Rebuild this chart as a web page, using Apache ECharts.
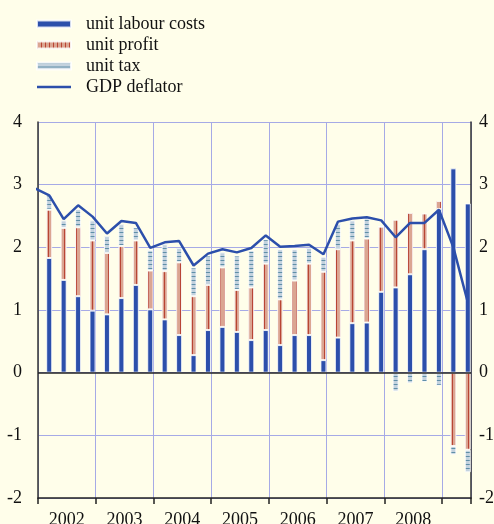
<!DOCTYPE html>
<html>
<head>
<meta charset="utf-8">
<script src="https://cdn.jsdelivr.net/npm/echarts@6/dist/echarts.min.js"></script>
<style>
  html, body { margin: 0; padding: 0; background: #fffeea; }
  #chart { width: 494px; height: 524px; }
</style>
</head>
<body>
<div id="chart"></div>
<script>
// quarters (first one only feeds the line, it is clipped at the left edge)
const quarters = [
  '2001Q4',
  '2002Q1', '2002Q2', '2002Q3', '2002Q4',
  '2003Q1', '2003Q2', '2003Q3', '2003Q4',
  '2004Q1', '2004Q2', '2004Q3', '2004Q4',
  '2005Q1', '2005Q2', '2005Q3', '2005Q4',
  '2006Q1', '2006Q2', '2006Q3', '2006Q4',
  '2007Q1', '2007Q2', '2007Q3', '2007Q4',
  '2008Q1', '2008Q2', '2008Q3', '2008Q4',
  '2009Q1', '2009Q2'
];
const yearLabels = ['2002', '2003', '2004', '2005', '2006', '2007', '2008'];

// 2002Q1 .. 2009Q2
const labourCosts = [1.83, 1.48, 1.22, 0.99, 0.93, 1.19, 1.40, 1.01, 0.85, 0.60,
  0.28, 0.68, 0.73, 0.65, 0.52, 0.68, 0.44, 0.60, 0.60, 0.20,
  0.56, 0.79, 0.80, 1.29, 1.36, 1.57, 1.97, 2.61, 3.26, 2.70];
const unitProfit = [0.77, 0.83, 1.10, 1.12, 0.98, 0.83, 0.71, 0.62, 0.77, 1.16,
  0.94, 0.72, 0.95, 0.67, 0.84, 1.06, 0.73, 0.87, 1.14, 1.41,
  1.41, 1.32, 1.34, 1.04, 1.08, 0.98, 0.57, 0.13, -1.17, -1.23];
const unitTax = [0.23, 0.12, 0.29, 0.32, 0.27, 0.35, 0.21, 0.33, 0.43, 0.23,
  0.46, 0.47, 0.24, 0.55, 0.59, 0.39, 0.80, 0.50, 0.25, 0.24,
  0.40, 0.32, 0.32, 0.00, -0.30, -0.17, -0.15, -0.21, -0.14, -0.36];
// 2001Q4 .. 2009Q2
const gdpDeflator = [2.94, 2.83, 2.45, 2.67, 2.49, 2.22, 2.42, 2.39, 1.99, 2.08,
  2.10, 1.71, 1.90, 1.97, 1.92, 1.99, 2.19, 2.01, 2.02, 2.04,
  1.89, 2.41, 2.46, 2.48, 2.43, 2.16, 2.39, 2.39, 2.60, 2.00, 1.12];

const FONT = 'Liberation Serif';
const BLUE = '#2c4fab';

// quarter -> position on the decimal-year axis (same place as the bar centres)
function toX(q) {
  const parts = q.split('Q');
  return +parts[0] + (parts[1] - 1) / 4 + 0.195;
}

function stripes(w, h, bg, fg, vertical) {
  const c = document.createElement('canvas');
  c.width = w; c.height = h;
  const ctx = c.getContext('2d');
  ctx.fillStyle = bg;
  ctx.fillRect(0, 0, w, h);
  ctx.fillStyle = fg;
  if (vertical) ctx.fillRect(0, 0, 1, h);
  else ctx.fillRect(0, 0, w, 1);
  return { image: c, repeat: 'repeat' };
}

const barQuarters = quarters.slice(1);

const barCommon = {
  type: 'bar',
  stack: 'total',
  xAxisIndex: 2,
  yAxisIndex: 2,
  barWidth: 6,
  silent: true,
  itemStyle: { borderColor: 'rgba(255,255,255,0.8)', borderWidth: 1 }
};

const myChart = echarts.init(document.getElementById('chart'));
myChart.setOption({
  backgroundColor: '#fffeea',
  animation: false,
  legend: {
    orient: 'vertical',
    left: 31,
    top: 10,
    itemWidth: 34,
    itemHeight: 7,
    itemGap: 3,
    textStyle: { fontFamily: FONT, fontSize: 18, color: '#111', lineHeight: 18, padding: [0, 0, 0, 10] },
    data: [
      { name: 'unit labour costs', icon: 'rect' },
      { name: 'unit profit', icon: 'rect' },
      { name: 'unit tax', icon: 'rect' },
      { name: 'GDP deflator', icon: 'path://M0,0H34V2.5H0Z', symbolKeepAspect: true }
    ]
  },
  grid: [
    { left: 38, right: 23, top: 122, bottom: 26, outerBoundsMode: 'none' },
    // bars: category slots, shifted to sit where the reference bars are
    { left: 42, right: 19, top: 122, bottom: 26, outerBoundsMode: 'none' }
  ],
  xAxis: [
    {
      type: 'value',
      gridIndex: 0,
      min: 2002,
      max: 2009.5,
      interval: 1,
      axisLine: { show: true, onZero: false, lineStyle: { color: '#222', width: 1.5 } },
      axisTick: { show: true, inside: false, length: 6, lineStyle: { color: '#222', width: 1.5 } },
      axisLabel: { show: false },
      splitLine: { show: true, lineStyle: { color: '#a6aae6', width: 1 } }
    },
    {
      type: 'value',
      gridIndex: 0,
      min: 2002,
      max: 2009.5,
      interval: 0.5,
      position: 'bottom',
      axisLine: { show: false },
      axisTick: { show: false },
      splitLine: { show: false },
      axisLabel: {
        margin: 13,
        fontFamily: FONT,
        fontSize: 18,
        color: '#111',
        formatter: v => {
          const y = Math.floor(v);
          return (v - y === 0.5 && yearLabels.indexOf(String(y)) >= 0) ? String(y) : '';
        }
      }
    },
    {
      type: 'category',
      gridIndex: 1,
      data: barQuarters,
      show: false
    }
  ],
  yAxis: [
    {
      type: 'value',
      gridIndex: 0,
      min: -2,
      max: 4,
      interval: 1,
      axisLine: { show: true, lineStyle: { color: '#333', width: 1.5 } },
      axisTick: { show: false },
      axisLabel: { margin: 16, fontFamily: FONT, fontSize: 18, color: '#111' },
      splitLine: { show: true, lineStyle: { color: '#a6aae6', width: 1 } }
    },
    {
      type: 'value',
      gridIndex: 0,
      position: 'right',
      min: -2,
      max: 4,
      interval: 1,
      axisLine: { show: true, lineStyle: { color: '#333', width: 1.5 } },
      axisTick: { show: false },
      axisLabel: { margin: 8, fontFamily: FONT, fontSize: 18, color: '#111' },
      splitLine: { show: false }
    },
    {
      type: 'value',
      gridIndex: 1,
      min: -2,
      max: 4,
      interval: 1,
      show: false
    }
  ],
  series: [
    Object.assign({}, barCommon, {
      name: 'unit labour costs',
      color: BLUE,
      data: labourCosts
    }),
    Object.assign({}, barCommon, {
      name: 'unit profit',
      itemStyle: Object.assign({}, barCommon.itemStyle, { color: stripes(4, 4, '#dba592', '#b84535', true) }),
      data: unitProfit
    }),
    Object.assign({}, barCommon, {
      name: 'unit tax',
      itemStyle: Object.assign({}, barCommon.itemStyle, { color: stripes(4, 4, '#c3d2de', '#5f8fa8', false) }),
      data: unitTax
    }),
    {
      name: 'GDP deflator',
      type: 'line',
      xAxisIndex: 0,
      yAxisIndex: 0,
      symbol: 'none',
      color: BLUE,
      lineStyle: { width: 2.5, color: BLUE },
      z: 5,
      data: gdpDeflator.map((v, i) => [toX(quarters[i]), v]),
      markLine: {
        silent: true,
        symbol: 'none',
        label: { show: false },
        lineStyle: { color: '#222', width: 1.5, type: 'solid' },
        data: [{ yAxis: 0 }]
      }
    }
  ]
});
</script>
</body>
</html>
